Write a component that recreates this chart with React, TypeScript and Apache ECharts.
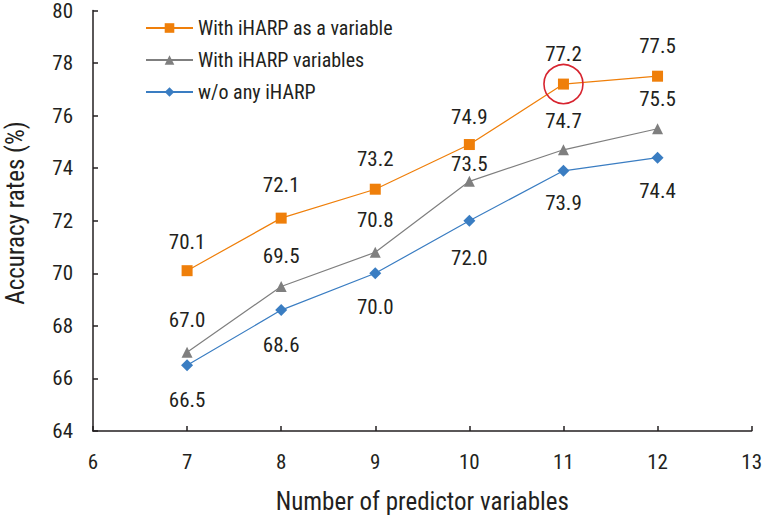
import React, { useEffect, useRef } from "react";
import * as echarts from "echarts";

const xValues = [7, 8, 9, 10, 11, 12];
const withAsVariable = [70.1, 72.1, 73.2, 74.9, 77.2, 77.5];
const withVariables = [67.0, 69.5, 70.8, 73.5, 74.7, 75.5];
const withoutAny = [66.5, 68.6, 70.0, 72.0, 73.9, 74.4];
const seriesNames = ["With iHARP as a variable", "With iHARP variables", "w/o any iHARP"];
const highlightIndex = 4;

// label vertical shifts (px) relative to each point
const shiftOrange = [-29, -33, -30, -28, -30, -30];
const shiftGray = [-32, -30, -32, -17, -29, -30];
const shiftBlue = [35, 35, 34, 37, 32, 33];

const FONT = "'Roboto Condensed', 'Liberation Sans Narrow', Roboto, sans-serif";
const TXT = "#231f20";

function build(values: number[], shifts: number[]) {
  return values.map((v, i) => ({
    value: [xValues[i], v],
    label: { offset: [0, shifts[i]] },
  }));
}

export default function App() {
  const ref = useRef<HTMLDivElement>(null);
  useEffect(() => {
    const chart = echarts.init(ref.current!, null, { renderer: "svg" });
    const labelBase = {
      show: true,
      position: "inside",
      color: TXT,
      fontFamily: FONT,
      fontSize: 21,
      formatter: (p: any) => p.value[1].toFixed(1),
    };
    chart.setOption({
      animation: false,
      backgroundColor: "#ffffff",
      grid: { left: 93, right: 11, top: 6, bottom: 90 },
      legend: {
        orient: "vertical",
        left: 140,
        top: 13,
        itemWidth: 47,
        itemHeight: 12,
        itemGap: 12,
        textStyle: { fontFamily: FONT, fontSize: 20, color: TXT },
        data: seriesNames,
      },
      xAxis: {
        type: "value",
        min: 6,
        max: 13,
        interval: 1,
        name: "Number of predictor variables",
        nameLocation: "middle",
        nameGap: 58,
        nameTextStyle: { fontFamily: FONT, fontSize: 25, color: TXT },
        axisLine: { lineStyle: { color: TXT, width: 1.5 } },
        axisTick: { inside: true, length: 5, lineStyle: { color: TXT, width: 1.5 } },
        axisLabel: { fontFamily: FONT, fontSize: 21, color: TXT, margin: 20 },
        splitLine: { show: false },
      },
      yAxis: {
        type: "value",
        min: 64,
        max: 80,
        interval: 2,
        axisLine: { show: true, lineStyle: { color: TXT, width: 1.5 } },
        axisTick: { show: true, inside: true, length: 5, lineStyle: { color: TXT, width: 1.5 } },
        axisLabel: { fontFamily: FONT, fontSize: 21, color: TXT, margin: 20, padding: [8, 0, 0, 0] },
        splitLine: { show: false },
      },
      graphic: [
        {
          type: "text",
          x: 15,
          y: 213,
          rotation: Math.PI / 2,
          style: {
            text: "Accuracy rates (%)",
            fontFamily: FONT,
            fontSize: 25,
            fill: TXT,
            align: "center",
            verticalAlign: "middle",
          },
        },
      ],
      series: [
        {
          name: seriesNames[0],
          type: "line",
          data: build(withAsVariable, shiftOrange),
          symbol: "rect",
          symbolSize: 11,
          color: "#ef7f0a",
          lineStyle: { width: 1.2 },
          label: labelBase,
          z: 3,
          markPoint: {
            symbol: "circle",
            symbolSize: 39,
            label: { show: false },
            itemStyle: { color: "rgba(0,0,0,0)", borderColor: "#d7242f", borderWidth: 1.6 },
            data: [{ coord: [xValues[highlightIndex], withAsVariable[highlightIndex]] }],
          },
        },
        {
          name: seriesNames[1],
          type: "line",
          data: build(withVariables, shiftGray),
          symbol: "triangle",
          symbolSize: 11,
          color: "#7f7f7f",
          lineStyle: { width: 1.2 },
          label: labelBase,
          z: 2,
        },
        {
          name: seriesNames[2],
          type: "line",
          data: build(withoutAny, shiftBlue),
          symbol: "diamond",
          symbolSize: 12,
          color: "#3a7dc2",
          lineStyle: { width: 1.2 },
          label: labelBase,
          z: 2,
        },
      ],
    });
    return () => chart.dispose();
  }, []);
  return (
    <div
      ref={ref}
      style={{ position: "absolute", left: 0, top: 0, width: 765, height: 521 }}
    />
  );
}
